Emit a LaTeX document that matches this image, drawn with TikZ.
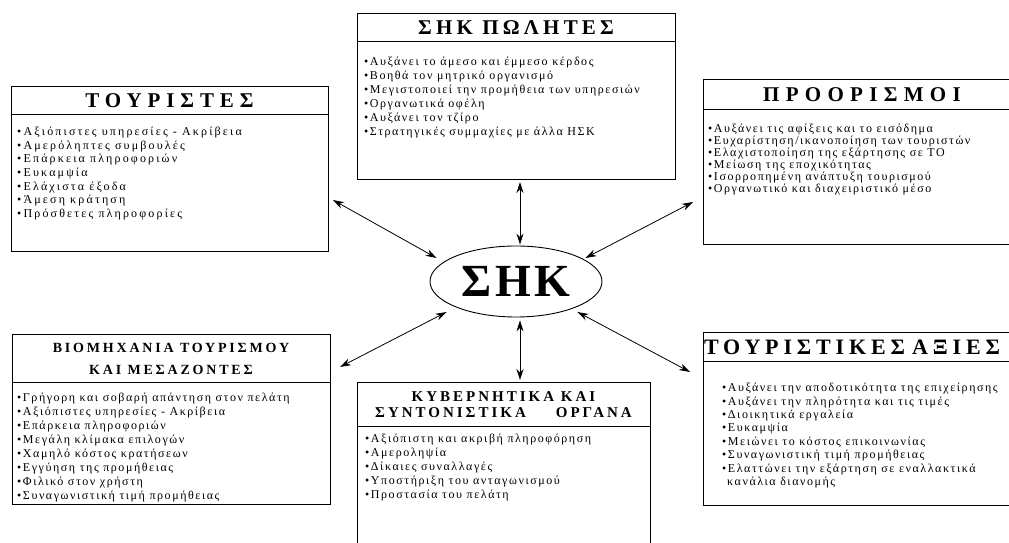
\documentclass[tikz,border=0pt]{standalone}
\usepackage{fontspec}
\setmainfont{Liberation Serif}
\newfontfamily\itemfont[LetterSpace=13]{Liberation Serif}
\newfontfamily\headfont[LetterSpace=20]{Liberation Serif}
\usetikzlibrary{calc,positioning,shapes.geometric,arrows.meta}

\tikzset{
	head/.style={draw,line width=1pt,inner sep=0pt,outer sep=0pt,align=center},
	part/.style={draw,line width=1pt,inner sep=0pt,outer sep=0pt},
	items/.style={anchor=north west,inner sep=0pt,align=left},
	link/.style={{Stealth[length=11pt,width=7pt]}-{Stealth[length=11pt,width=7pt]},line width=0.8pt}
}
\newcommand{\hfnt}[2]{\headfont\bfseries\fontsize{#1}{#2}\selectfont}
\newcommand{\ifnt}[1]{\itemfont\fontsize{12}{#1}\selectfont}

\begin{document}
\begin{tikzpicture}[x=1pt,y=1pt]
		\useasboundingbox (0,0) rectangle (1009,543);
		\clip (0,0) rectangle (1009,543);
		\node(shk) [ellipse,draw,line width=0.9pt,minimum width=172pt,minimum height=71pt,inner sep=0pt,font=\hfnt{46}{50}\addfontfeature{LetterSpace=8}] at (516,261.5) {ΣΗΚ};
		\node(vend) [head,minimum width=318pt,minimum height=28pt,font=\hfnt{21}{24}] at (516,515) {ΣΗΚ ΠΩΛΗΤΕΣ};
		\node(vendb) [part,minimum width=318pt,minimum height=138pt,below=0pt of vend] {};
		\node(tour) [head,minimum width=317pt,minimum height=28pt,font=\hfnt{21}{24}\addfontfeature{LetterSpace=28}] at (169.5,442) {ΤΟΥΡΙΣΤΕΣ};
		\node(tourb) [part,minimum width=317pt,minimum height=137pt,below=0pt of tour] {};
		\node(dest) [head,minimum width=318pt,minimum height=30pt,font=\hfnt{21}{24}\addfontfeature{LetterSpace=30}] at (862,448) {ΠΡΟΟΡΙΣΜΟΙ};
		\node(destb) [part,minimum width=318pt,minimum height=135pt,below=0pt of dest] {};
		\node(ind) [head,minimum width=318pt,minimum height=48pt,font=\hfnt{14}{22}] at (171,184) {ΒΙΟΜΗΧΑΝΙΑ ΤΟΥΡΙΣΜΟΥ\\ΚΑΙ ΜΕΣΑΖΟΝΤΕΣ};
		\node(indb) [part,minimum width=318pt,minimum height=122pt,below=0pt of ind] {};
		\node(gov) [head,minimum width=293pt,minimum height=44pt,font=\hfnt{15}{16}] at (503.5,138) {ΚΥΒΕΡΝΗΤΙΚΑ ΚΑΙ\\ΣΥΝΤΟΝΙΣΤΙΚΑ\hspace{30pt}ΟΡΓΑΝΑ};
		\node(govb) [part,minimum width=293pt,minimum height=133pt,below=0pt of gov] {};
		\node(val) [head,minimum width=318pt,minimum height=29pt,text width=316pt,align=left,font=\hfnt{22}{25}\addfontfeature{LetterSpace=22}] at (862,195.5) {ΤΟΥΡΙΣΤΙΚΕΣ ΑΞΙΕΣ};
		\node(valb) [part,minimum width=318pt,minimum height=144pt,below=0pt of val] {};
		\node(vendt) [items,font=\ifnt{14}] at ($(vendb.north west)+(7,-15)$) {•Αυξάνει το άμεσο και έμμεσο κέρδος\\•Βοηθά τον μητρικό οργανισμό\\•Μεγιστοποιεί την προμήθεια των υπηρεσιών\\•Οργανωτικά οφέλη\\•Αυξάνει τον τζίρο\\•Στρατηγικές συμμαχίες με άλλα ΗΣΚ};
		\node(tourt) [items,font=\ifnt{13.6}\addfontfeature{LetterSpace=18}] at ($(tourb.north west)+(6,-12)$) {•Αξιόπιστες υπηρεσίες - Ακρίβεια\\•Αμερόληπτες συμβουλές\\•Επάρκεια πληροφοριών\\•Ευκαμψία\\•Ελάχιστα έξοδα\\•Άμεση κράτηση\\•Πρόσθετες πληροφορίες};
		\node(destt) [items,font=\ifnt{12}] at ($(destb.north west)+(5,-14)$) {•Αυξάνει τις αφίξεις και το εισόδημα\\•Ευχαρίστηση/ικανοποίηση των τουριστών\\•Ελαχιστοποίηση της εξάρτησης σε ΤΟ\\•Μείωση της εποχικότητας\\•Ισορροπημένη ανάπτυξη τουρισμού\\•Οργανωτικό και διαχειριστικό μέσο};
		\node(indt) [items,font=\ifnt{14}] at ($(indb.north west)+(5,-10)$) {•Γρήγορη και σοβαρή απάντηση στον πελάτη\\•Αξιόπιστες υπηρεσίες - Ακρίβεια\\•Επάρκεια πληροφοριών\\•Μεγάλη κλίμακα επιλογών\\•Χαμηλό κόστος κρατήσεων\\•Εγγύηση της προμήθειας\\•Φιλικό στον χρήστη\\•Συναγωνιστική τιμή προμήθειας};
		\node(govt) [items,font=\ifnt{14}] at ($(govb.north west)+(8,-7)$) {•Αξιόπιστη και ακριβή πληροφόρηση\\•Αμεροληψία\\•Δίκαιες συναλλαγές\\•Υποστήριξη του ανταγωνισμού\\•Προστασία του πελάτη};
		\node(valt) [items,font=\ifnt{13.4}] at ($(valb.north west)+(19,-21)$) {•Αυξάνει την αποδοτικότητα της επιχείρησης\\•Αυξάνει την πληρότητα και τις τιμές\\•Διοικητικά εργαλεία\\•Ευκαμψία\\•Μειώνει το κόστος επικοινωνίας\\•Συναγωνιστική τιμή προμήθειας\\•Ελαττώνει την εξάρτηση σε εναλλακτικά\\\hspace*{5pt}κανάλια διανομής};
		\path[link]
			([shift={(4pt,-2pt)}]vendb.south) edge ([shift={(4pt,1pt)}]shk.north)
			([shift={(4pt,-3pt)}]shk.south) edge ([shift={(16.5pt,3pt)}]gov.north)
			([shift={(5pt,52pt)}]tourb.south east) edge ([shift={(7pt,23.5pt)}]shk.west)
			([shift={(-10pt,43pt)}]destb.south west) edge ([shift={(-17pt,23.5pt)}]shk.east)
			([shift={(10pt,16pt)}]indb.north east) edge ([shift={(17pt,-30.5pt)}]shk.west)
			([shift={(-13pt,-10pt)}]valb.north west) edge ([shift={(-25pt,-30.5pt)}]shk.east);
\end{tikzpicture}
\end{document}
